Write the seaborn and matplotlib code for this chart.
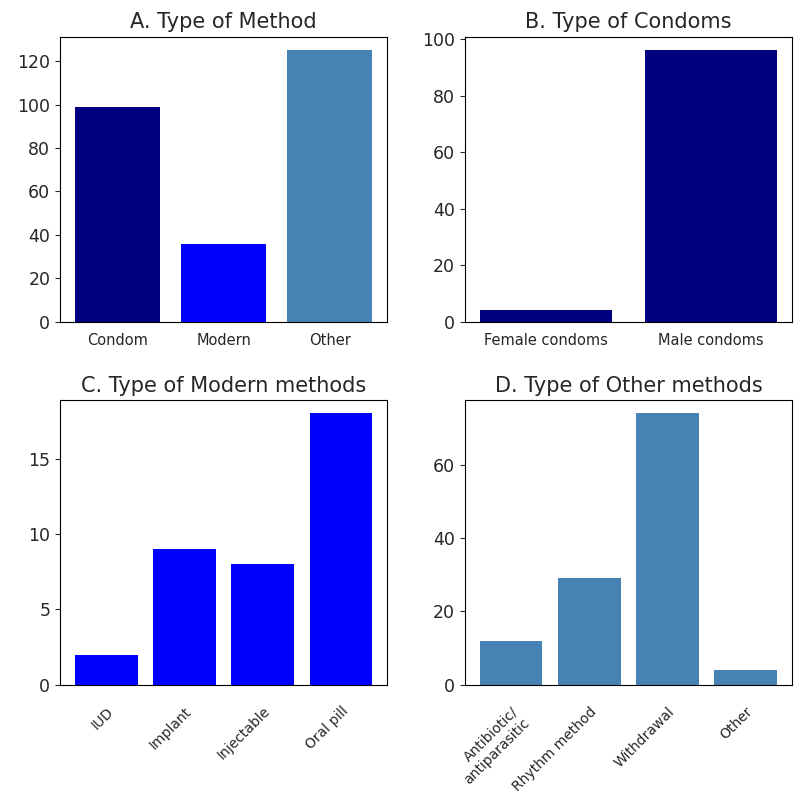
import pandas as pd
import matplotlib
matplotlib.use('Agg')
import matplotlib.pyplot as plt
from matplotlib.ticker import MultipleLocator
import seaborn as sns

# values
method_labels = ['Condom', 'Modern', 'Other']
method_counts = [99, 36, 125]
method_colors = ['navy', 'blue', 'steelblue']

condom_labels = ['Female condoms', 'Male condoms']
condom_counts = [4, 96]

modern_labels = ['IUD', 'Implant', 'Injectable', 'Oral pill']
modern_counts = [2, 9, 8, 18]

other_labels = ['Antibiotic/\nantiparasitic', 'Rhythm method', 'Withdrawal', 'Other']
other_counts = [12, 29, 74, 4]

sns.set_style('ticks')
plt.rcParams['font.family'] = ['DejaVu Sans']

fig, axes = plt.subplots(2, 2, figsize=(8, 8), dpi=100)
fig.subplots_adjust(left=0.075, right=0.99, top=0.954, bottom=0.144,
                    wspace=0.237, hspace=0.274)


def draw(ax, labels, counts, colors, title, step, rotate=False):
    df = pd.DataFrame({'label': labels, 'count': counts})
    sns.barplot(data=df, x='label', y='count', hue='label', palette=colors,
                legend=False, width=0.8, saturation=1, ax=ax, linewidth=0)
    n = len(labels)
    m = 0.05 * (n - 1 + 0.8)
    ax.set_xlim(-0.4 - m, n - 1 + 0.4 + m)
    ax.set_ylim(0, max(counts) * 1.05)
    ax.yaxis.set_major_locator(MultipleLocator(step))
    ax.set_title(title, fontsize=15)
    ax.set_xlabel('')
    ax.set_ylabel('')
    ax.tick_params(axis='y', labelsize=12.5)
    ax.tick_params(axis='x', labelsize=10.5, length=0, pad=8)
    if rotate:
        ax.tick_params(axis='x', labelsize=10, pad=14)
        plt.setp(ax.get_xticklabels(), rotation=45, ha='right',
                 rotation_mode='anchor', multialignment='right')
    for s in ax.spines.values():
        s.set_visible(True)
        s.set_color('black')


draw(axes[0, 0], method_labels, method_counts, method_colors, 'A. Type of Method', 20)
draw(axes[0, 1], condom_labels, condom_counts, ['navy'] * 2, 'B. Type of Condoms', 20)
draw(axes[1, 0], modern_labels, modern_counts, ['blue'] * 4, 'C. Type of Modern methods', 5, rotate=True)
draw(axes[1, 1], other_labels, other_counts, ['steelblue'] * 4, 'D. Type of Other methods', 20, rotate=True)

plt.savefig('out.png', dpi=100)
